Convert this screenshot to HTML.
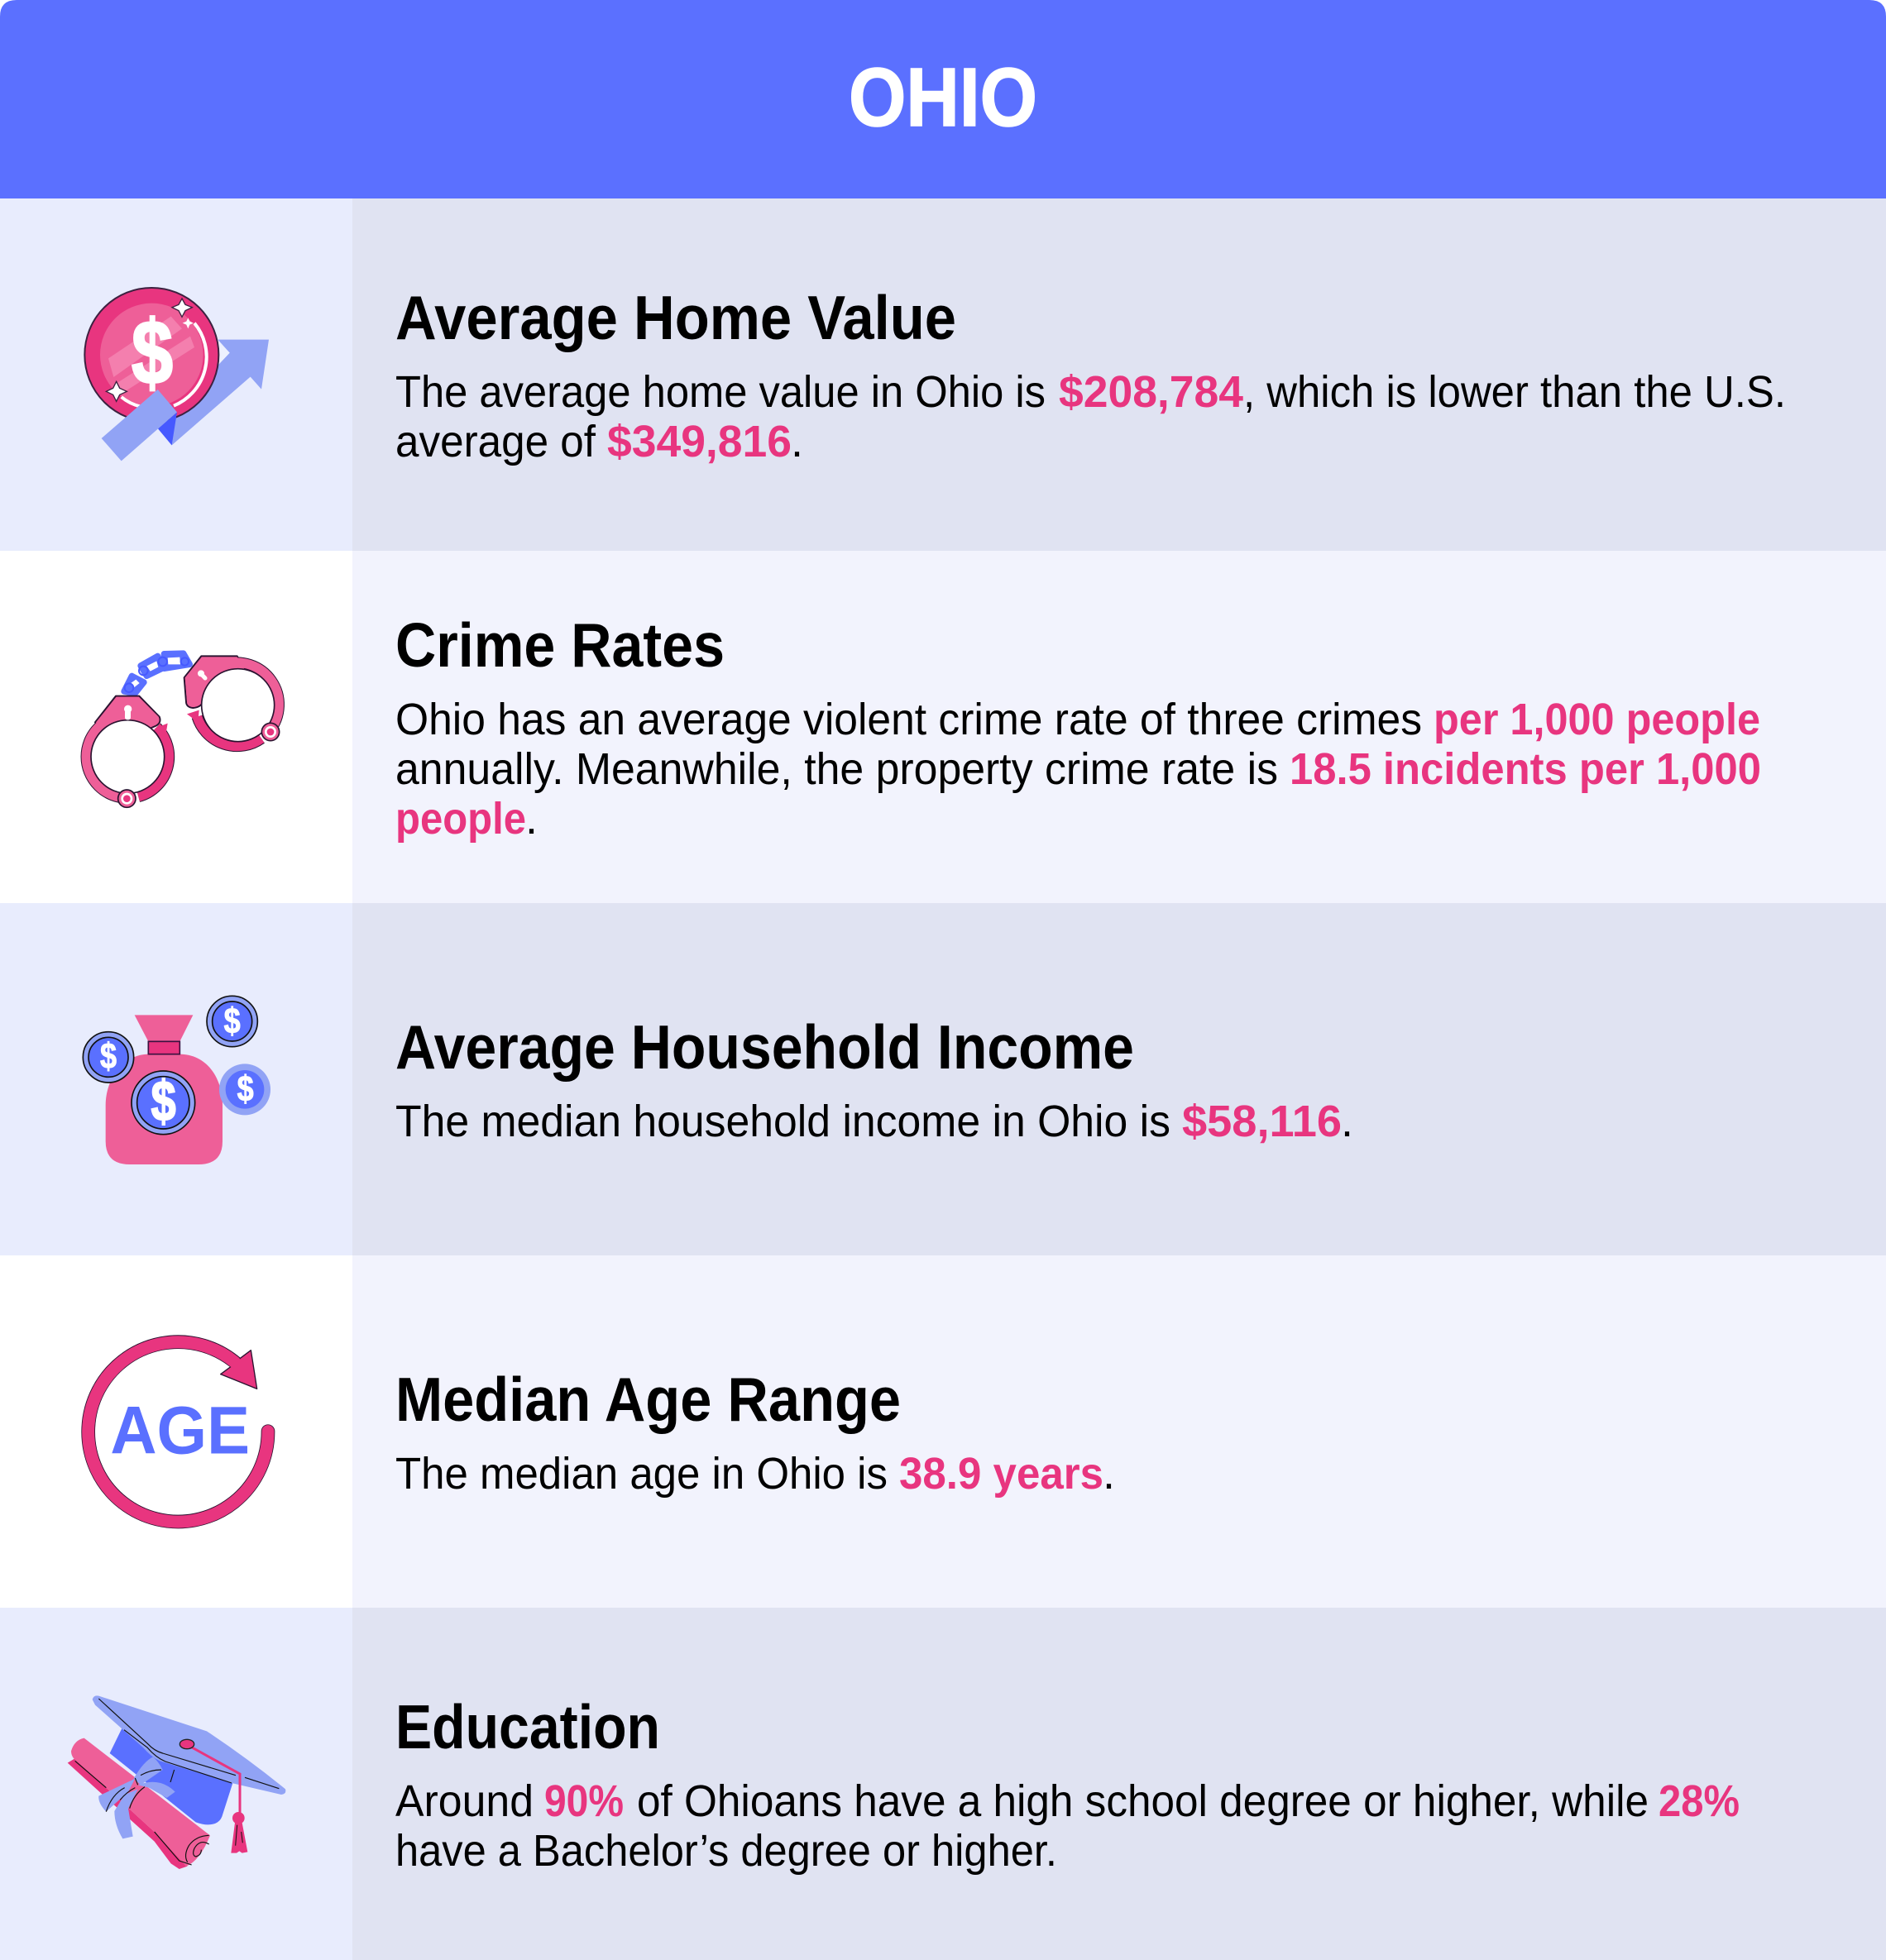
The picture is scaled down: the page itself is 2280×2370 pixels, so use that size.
<!DOCTYPE html>
<html lang="en">
<head>
<meta charset="utf-8">
<title>Ohio</title>
<style>
html,body{margin:0;padding:0;background:#fff;}
svg{display:block;}
text{font-family:"Liberation Sans",sans-serif;}
.t{font-size:75px;font-weight:700;fill:#000;}
.b{font-size:54px;fill:#000;}
.p{font-size:54px;font-weight:700;fill:#E8357F;}
.d{font-weight:700;fill:#fff;text-anchor:middle;}
</style>
</head>
<body>
<svg xmlns="http://www.w3.org/2000/svg" width="2280" height="2370" viewBox="0 0 2280 2370">
  <!-- backgrounds -->
  <rect x="0" y="0" width="2280" height="2370" fill="#ffffff"/>
  <path d="M0,240V20Q0,0 20,0H2260Q2280,0 2280,20V240Z" fill="#5B70FF"/>
  <text x="1026" y="152" font-size="100" font-weight="700" fill="#fff" stroke="#fff" stroke-width="1.5" textLength="228" lengthAdjust="spacingAndGlyphs">OHIO</text>

  <rect x="0" y="240" width="426" height="426" fill="#E8ECFD"/>
  <rect x="426" y="240" width="1854" height="426" fill="#E0E3F2"/>
  <rect x="0" y="666" width="426" height="426" fill="#FFFFFF"/>
  <rect x="426" y="666" width="1854" height="426" fill="#F2F3FD"/>
  <rect x="0" y="1092" width="426" height="426" fill="#E8ECFD"/>
  <rect x="426" y="1092" width="1854" height="426" fill="#E0E3F2"/>
  <rect x="0" y="1518" width="426" height="426" fill="#FFFFFF"/>
  <rect x="426" y="1518" width="1854" height="426" fill="#F2F3FD"/>
  <rect x="0" y="1944" width="426" height="426" fill="#E8ECFD"/>
  <rect x="426" y="1944" width="1854" height="426" fill="#E0E3F2"/>

  <!-- row 1 text -->
  <g>
    <text class="t" x="478" y="410" textLength="678" lengthAdjust="spacingAndGlyphs">Average Home Value</text>
    <text class="b" x="478" y="492" textLength="786" lengthAdjust="spacingAndGlyphs">The average home value in Ohio is</text>
    <text class="p" x="1280" y="492" textLength="223" lengthAdjust="spacingAndGlyphs">$208,784</text>
    <text class="b" x="1503" y="492" textLength="656" lengthAdjust="spacingAndGlyphs">, which is lower than the U.S.</text>
    <text class="b" x="478" y="552" textLength="242" lengthAdjust="spacingAndGlyphs">average of</text>
    <text class="p" x="734" y="552" textLength="223" lengthAdjust="spacingAndGlyphs">$349,816</text>
    <text class="b" x="956" y="552">.</text>
  </g>

  <!-- row 2 text -->
  <g>
    <text class="t" x="478" y="806" textLength="398" lengthAdjust="spacingAndGlyphs">Crime Rates</text>
    <text class="b" x="478" y="888" textLength="1241" lengthAdjust="spacingAndGlyphs">Ohio has an average violent crime rate of three crimes</text>
    <text class="p" x="1733" y="888" textLength="395" lengthAdjust="spacingAndGlyphs">per 1,000 people</text>
    <text class="b" x="478" y="948" textLength="1067" lengthAdjust="spacingAndGlyphs">annually. Meanwhile, the property crime rate is</text>
    <text class="p" x="1559" y="948" textLength="570" lengthAdjust="spacingAndGlyphs">18.5 incidents per 1,000</text>
    <text class="p" x="478" y="1008" textLength="158" lengthAdjust="spacingAndGlyphs">people</text>
    <text class="b" x="635" y="1008">.</text>
  </g>

  <!-- row 3 text -->
  <g>
    <text class="t" x="478" y="1292" textLength="893" lengthAdjust="spacingAndGlyphs">Average Household Income</text>
    <text class="b" x="478" y="1374" textLength="937" lengthAdjust="spacingAndGlyphs">The median household income in Ohio is</text>
    <text class="p" x="1429" y="1374" textLength="193" lengthAdjust="spacingAndGlyphs">$58,116</text>
    <text class="b" x="1621" y="1374">.</text>
  </g>

  <!-- row 4 text -->
  <g>
    <text class="t" x="478" y="1718" textLength="611" lengthAdjust="spacingAndGlyphs">Median Age Range</text>
    <text class="b" x="478" y="1800" textLength="595" lengthAdjust="spacingAndGlyphs">The median age in Ohio is</text>
    <text class="p" x="1087" y="1800" textLength="247" lengthAdjust="spacingAndGlyphs">38.9 years</text>
    <text class="b" x="1333" y="1800">.</text>
  </g>

  <!-- row 5 text -->
  <g>
    <text class="t" x="478" y="2114" textLength="320" lengthAdjust="spacingAndGlyphs">Education</text>
    <text class="b" x="478" y="2196" textLength="167" lengthAdjust="spacingAndGlyphs">Around</text>
    <text class="p" x="658" y="2196" textLength="96" lengthAdjust="spacingAndGlyphs">90%</text>
    <text class="b" x="770" y="2196" textLength="1223" lengthAdjust="spacingAndGlyphs">of Ohioans have a high school degree or higher, while</text>
    <text class="p" x="2005" y="2196" textLength="98" lengthAdjust="spacingAndGlyphs">28%</text>
    <text class="b" x="478" y="2256" textLength="800" lengthAdjust="spacingAndGlyphs">have a Bachelor’s degree or higher.</text>
  </g>

  <!-- icon 1: coin and arrow -->
  <g transform="translate(50,300) scale(0.33333)">
    <polygon points="640,332 825,332 798,512 758,467 473,715 423,655 683,380" fill="#91A3F5"/>
    <polygon points="640,335 683,380 640,425" fill="#EDF0FE"/>
    <circle cx="400" cy="387" r="243" fill="#E8357F" stroke="#3C2140" stroke-width="6"/>
    <circle cx="400" cy="387" r="187" fill="#EE5F98"/>
    <polygon points="243,400 470,248 510,292 262,468" fill="#F47FAE"/>
    <polygon points="270,492 540,320 555,360 300,522" fill="#F47FAE"/>
    <path d="M555,272A192,192 0 0 1 480,572M290,540Q320,565 360,575" fill="none" stroke="#fff" stroke-width="12"/>
    <text class="d" x="402" y="492" font-size="330" textLength="150" lengthAdjust="spacingAndGlyphs" stroke="#fff" stroke-width="8">$</text>
    <polygon points="510,183 522,205 547,215 522,227 510,250 498,227 474,215 498,205" fill="#fff" stroke="#3C2140" stroke-width="4"/>
    <polygon points="532,253 538,266 552,272 538,278 532,292 526,278 512,272 526,266" fill="#fff"/>
    <polygon points="272,484 284,508 310,520 284,532 272,556 260,532 235,520 260,508" fill="#fff" stroke="#3C2140" stroke-width="4"/>
    <polygon points="423,655 492,595 473,715" fill="#4659FF"/>
    <polygon points="218,690 422,513 492,595 290,772" fill="#91A3F5"/>
  </g>

  <!-- icon 2: handcuffs -->
  <g transform="translate(70,760) scale(0.33333)">
    <g>
      <g fill="#5A70FF" stroke="#5A70FF" stroke-width="22" stroke-linejoin="round">
        <polygon points="240,228 268,172 312,195 280,235"/>
        <polygon points="300,135 362,100 378,145 322,172"/>
        <polygon points="385,92 455,90 478,130 385,145"/>
      </g>
      <g fill="#fff">
        <polygon points="262,200 283,185 296,198 276,214"/>
        <polygon points="322,136 358,118 364,140 335,155"/>
        <polygon points="398,106 442,104 444,130 400,130"/>
      </g>
      <g fill="none" stroke="#4659FF" stroke-width="6">
        <circle cx="258" cy="215" r="16"/>
        <circle cx="310" cy="153" r="16"/>
        <circle cx="380" cy="120" r="16"/>
        <circle cx="460" cy="120" r="14"/>
      </g>
    </g>

    <path d="M210,245H295L368,320Q378,345 348,356L290,380H160L135,340Z" fill="#EE5F98" stroke="#2A1330" stroke-width="6" stroke-linejoin="round"/>
    <path d="M253,315A150,150 0 0 0 253,615" fill="none" stroke="#2A1330" stroke-width="41"/>
    <path d="M358,358A150,150 0 0 1 292,610" fill="none" stroke="#2A1330" stroke-width="41"/>
    <path d="M253,315A150,150 0 0 0 253,615" fill="none" stroke="#EE5F98" stroke-width="35"/>
    <path d="M358,358A150,150 0 0 1 292,610" fill="none" stroke="#E8357F" stroke-width="35"/>
    <polygon points="352,362 398,344 392,380" fill="#E8357F"/>
    <path d="M213,248H293L365,320Q375,343 348,353L290,380H160L138,340Z" fill="#EE5F98"/>
    <circle cx="253" cy="465" r="133" fill="#fff" stroke="#2A1330" stroke-width="5"/>
    <circle cx="250" cy="617" r="32" fill="#EE5F98" stroke="#2A1330" stroke-width="5"/>
    <circle cx="250" cy="617" r="21" fill="#fff"/>
    <circle cx="250" cy="617" r="13" fill="#E8357F"/>
    <circle cx="254" cy="292" r="14" fill="#fff"/>
    <rect x="243" y="295" width="21" height="36" rx="8" fill="#fff"/>

    <path d="M520,100H650L690,170L610,200L540,240L525,265Q520,285 490,288Q465,285 465,265L458,178Z" fill="#EE5F98" stroke="#2A1330" stroke-width="6" stroke-linejoin="round"/>
    <path d="M600,132A152,152 0 0 1 767,372" fill="none" stroke="#2A1330" stroke-width="41"/>
    <path d="M738,399A152,152 0 0 1 505,320" fill="none" stroke="#2A1330" stroke-width="41"/>
    <path d="M600,132A152,152 0 0 1 767,372" fill="none" stroke="#EE5F98" stroke-width="35"/>
    <path d="M738,399A152,152 0 0 1 505,320" fill="none" stroke="#E8357F" stroke-width="35"/>
    <polygon points="468,310 512,296 508,340" fill="#E8357F"/>
    <path d="M522,103H650L690,170L610,200L540,240L522,265Q518,282 490,285Q468,283 468,265L461,178Z" fill="#EE5F98"/>
    <circle cx="653" cy="278" r="132" fill="#fff" stroke="#2A1330" stroke-width="5"/>
    <circle cx="771" cy="375" r="32" fill="#EE5F98" stroke="#2A1330" stroke-width="5"/>
    <circle cx="771" cy="375" r="21" fill="#fff"/>
    <circle cx="771" cy="375" r="13" fill="#E8357F"/>
    <circle cx="519" cy="163" r="12" fill="#fff"/>
    <line x1="520" y1="165" x2="534" y2="180" stroke="#fff" stroke-width="15" stroke-linecap="round"/>
  </g>

  <!-- icon 3: money bag -->
  <g transform="translate(70,1180) scale(0.33333)">
    <polygon points="278,142 490,142 442,238 328,238" fill="#EE5F98"/>
    <path d="M330,284H440C540,284 597,370 597,470V600Q597,684 510,684H260Q173,684 173,600V470C173,370 240,284 330,284Z" fill="#EE5F98"/>
    <rect x="328" y="238" width="114" height="46" fill="#E8357F" stroke="#3C1140" stroke-width="5"/>
    <g>
      <circle cx="382" cy="460" r="115" fill="#91A3F5" stroke="#111" stroke-width="5"/>
      <circle cx="382" cy="460" r="95" fill="#5A70FF" stroke="#111" stroke-width="5"/>
      <text class="d" x="383" y="525" font-size="205" textLength="90" lengthAdjust="spacingAndGlyphs" stroke="#fff" stroke-width="6">$</text>
    </g>
    <g>
      <circle cx="183" cy="295" r="92" fill="#91A3F5" stroke="#111" stroke-width="5"/>
      <circle cx="183" cy="295" r="72" fill="#5A70FF" stroke="#111" stroke-width="5"/>
      <text class="d" x="183" y="336" font-size="132" textLength="60" lengthAdjust="spacingAndGlyphs" stroke="#fff" stroke-width="3">$</text>
    </g>
    <g>
      <circle cx="632" cy="165" r="92" fill="#91A3F5" stroke="#111" stroke-width="5"/>
      <circle cx="632" cy="165" r="72" fill="#5A70FF" stroke="#111" stroke-width="5"/>
      <text class="d" x="632" y="208" font-size="132" textLength="60" lengthAdjust="spacingAndGlyphs" stroke="#fff" stroke-width="3">$</text>
    </g>
    <g>
      <circle cx="678" cy="412" r="93" fill="#91A3F5"/>
      <circle cx="678" cy="412" r="70" fill="#5A70FF"/>
      <text class="d" x="680" y="454" font-size="132" textLength="60" lengthAdjust="spacingAndGlyphs" stroke="#fff" stroke-width="3">$</text>
    </g>
  </g>

  <!-- icon 4: age -->
  <g transform="translate(70,1590) scale(0.33333)">
    <path d="M762,422A326,326 0 1 1 650,178" fill="none" stroke="#2A1330" stroke-width="50" stroke-linecap="round"/>
    <polygon points="700,128 722,268 590,215 624,190 660,158" fill="#E8357F" stroke="#2A1330" stroke-width="4" stroke-linejoin="round"/>
    <path d="M762,422A326,326 0 1 1 640,170" fill="none" stroke="#E8357F" stroke-width="45" stroke-linecap="round"/>
    <polygon points="698,134 717,262 596,214 628,190 664,158" fill="#E8357F"/>
    <text x="190" y="503" font-size="245" font-weight="700" fill="#5A70FF" textLength="506" lengthAdjust="spacingAndGlyphs">AGE</text>
  </g>

  <!-- icon 5: graduation -->
  <g transform="translate(60,2030) scale(0.33333)">
    <path d="M262,180L218,270L530,520Q570,535 600,525Q618,518 625,500L665,375L400,290Z" fill="#5A70FF"/>
    <path d="M155,75Q160,58 178,62L570,190Q720,290 855,400Q860,418 840,420L660,378L400,298Q370,285 340,250L165,95Z" fill="#91A3F5"/>
    <g fill="none" stroke="#111" stroke-width="3.5">
      <path d="M178,72L355,235Q380,262 410,270L675,350"/>
      <path d="M270,185L355,250Q385,285 420,300L660,378"/>
      <path d="M708,358L832,398"/>
      <path d="M452,330L438,375"/>
    </g>
    <polygon points="65,305 90,290 205,395 380,555 500,680 470,690 440,670 380,590" fill="#E8357F"/>
    <path d="M125,215Q90,222 78,262Q78,285 100,300L205,395L380,555L495,680Q545,660 582,568L300,350Z" fill="#EE5F98"/>
    <g fill="none" stroke="#111" stroke-width="3.5">
      <path d="M92,298L205,395"/>
      <path d="M380,555L470,660L515,675"/>
      <path d="M578,568Q530,570 505,605Q485,640 500,665"/>
      <path d="M578,600Q545,580 525,615Q515,640 530,645Q550,640 550,620"/>
    </g>
    <g fill="#91A3F5">
      <path d="M310,362L178,425Q175,450 205,482L285,410Z"/>
      <path d="M272,420L235,480Q235,530 265,580L302,572L285,470L320,400Z"/>
      <path d="M305,362Q340,300 375,283Q395,300 410,330L330,385Z"/>
      <path d="M320,385Q400,355 455,410L425,432L360,395Z"/>
    </g>
    <g fill="none" stroke="#111" stroke-width="3.5">
      <path d="M205,482Q225,420 272,395M255,440Q280,410 310,395M290,470Q305,420 345,392M310,360L320,385M330,350Q365,330 405,330"/>
    </g>
    <path d="M500,240L690,345V490" fill="none" stroke="#E8357F" stroke-width="9"/>
    <ellipse cx="498" cy="237" rx="26" ry="17" fill="#E8357F" stroke="#222" stroke-width="4"/>
    <polygon points="672,522 698,522 718,628 698,632 688,625 678,632 658,632" fill="#E8357F"/>
    <circle cx="685" cy="505" r="22" fill="#E8357F"/>
    <path d="M680,530L674,605M695,555L700,595" fill="none" stroke="#111" stroke-width="3"/>
  </g>
</svg>
</body>
</html>
